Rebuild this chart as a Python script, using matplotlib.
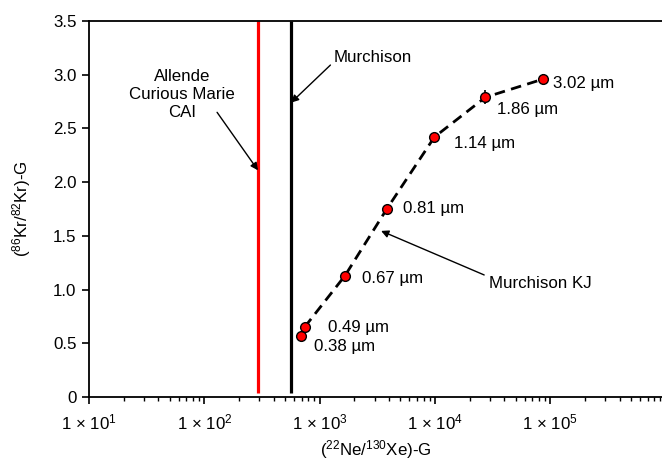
import matplotlib
matplotlib.use("Agg")
matplotlib.rcParams.update({
    "font.family": "sans-serif",
    "font.sans-serif": ["Liberation Sans", "DejaVu Sans"],
    "mathtext.fontset": "custom",
    "mathtext.rm": "Liberation Sans",
    "mathtext.it": "Liberation Sans:italic",
    "mathtext.bf": "Liberation Sans:bold",
    "axes.unicode_minus": False,
})
import matplotlib.pyplot as plt
import matplotlib.ticker as mticker

# grain-size fractions (Murchison KJ)
sizes = ["0.38 µm", "0.49 µm", "0.67 µm", "0.81 µm", "1.14 µm", "1.86 µm", "3.02 µm"]
ne_xe = [690, 740, 1660, 3820, 9890, 27400, 87000]
kr_ratio = [0.57, 0.65, 1.13, 1.75, 2.42, 2.79, 2.96]
kr_err = [0.0, 0.0, 0.0, 0.0, 0.0, 0.065, 0.05]

allende_cai = 292
murchison = 565

y_ticks = [0, 0.5, 1.0, 1.5, 2.0, 2.5, 3.0, 3.5]
x_ticks = [1e1, 1e2, 1e3, 1e4, 1e5]
x_tick_labels = [r"1 × 10$^{1}$", r"1 × 10$^{2}$", r"1 × 10$^{3}$",
                 r"1 × 10$^{4}$", r"1 × 10$^{5}$"]

# label offsets in points (dx, dy)
label_offsets = [(9, -8), (17, 0), (12, -2), (12, 0), (14, -5), (8, -9), (7, -3)]

FS = 12.2

fig = plt.figure(figsize=(6.62, 4.63), dpi=100)
ax = fig.add_axes([89 / 662, 66 / 463, 573 / 662, 376 / 463])

ax.set_xscale("log")
ax.set_xlim(10, 9.3e5)
ax.set_ylim(0, 3.5)

# vertical reference lines
ax.plot([allende_cai, allende_cai], [0.04, 3.5], color="#ff0000", lw=2.3, zorder=2,
        solid_capstyle="butt", clip_on=False)
ax.plot([murchison, murchison], [0.04, 3.5], color="black", lw=2.3, zorder=2,
        solid_capstyle="butt", clip_on=False)

# dashed trend through the grain-size fractions
ax.plot(ne_xe[1:], kr_ratio[1:], color="black", lw=2.0, ls=(0, (3.8, 2.3)), zorder=3)

ax.errorbar(ne_xe, kr_ratio, yerr=kr_err, fmt="none", ecolor="black", elinewidth=1.2,
            capsize=0, zorder=4)
ax.plot(ne_xe, kr_ratio, ls="none", marker="o", ms=7, mfc="#ff0000", mec="black",
        mew=1.0, zorder=5)

for x, y, s, (dx, dy) in zip(ne_xe, kr_ratio, sizes, label_offsets):
    ax.annotate(s, (x, y), xytext=(dx, dy), textcoords="offset points",
                ha="left", va="center", fontsize=FS)

# annotations
arrow = dict(arrowstyle="-|>", color="black", lw=1.0, shrinkA=0, shrinkB=0,
             mutation_scale=11)
ax.text(64, 2.82, "Allende\nCurious Marie\nCAI", ha="center", va="center",
        fontsize=FS, linespacing=1.25)
ax.annotate("", xy=(allende_cai, 2.11), xytext=(129, 2.65), arrowprops=arrow)

ax.text(1310, 3.156, "Murchison", ha="left", va="center", fontsize=FS)
ax.annotate("", xy=(murchison, 2.74), xytext=(1240, 3.09), arrowprops=arrow)

ax.text(29400, 1.06, "Murchison KJ", ha="left", va="center", fontsize=FS)
ax.annotate("", xy=(3410, 1.546), xytext=(26700, 1.136), arrowprops=arrow)

# axes styling
ax.set_yticks(y_ticks)
ax.yaxis.set_major_formatter(mticker.FuncFormatter(
    lambda v, _: "0" if v == 0 else f"{v:.1f}"))
ax.set_xticks(x_ticks)
ax.set_xticklabels(x_tick_labels)
ax.xaxis.set_minor_locator(mticker.LogLocator(base=10, subs=range(2, 10), numticks=20))
ax.xaxis.set_minor_formatter(mticker.NullFormatter())
ax.tick_params(axis="both", which="major", direction="out", length=5, width=1.2,
               labelsize=FS, pad=4)
ax.tick_params(axis="x", which="minor", direction="out", length=3, width=1.0)
ax.tick_params(axis="x", which="major", pad=6)

for sp in ["left", "bottom", "top"]:
    ax.spines[sp].set_linewidth(1.3)
ax.spines["right"].set_visible(False)

ax.set_xlabel(r"($^{22}$Ne/$^{130}$Xe)-G", fontsize=FS, labelpad=4)
ax.set_ylabel(r"($^{86}$Kr/$^{82}$Kr)-G", fontsize=FS, labelpad=14)

fig.savefig("out.png", dpi=100, facecolor="white")
